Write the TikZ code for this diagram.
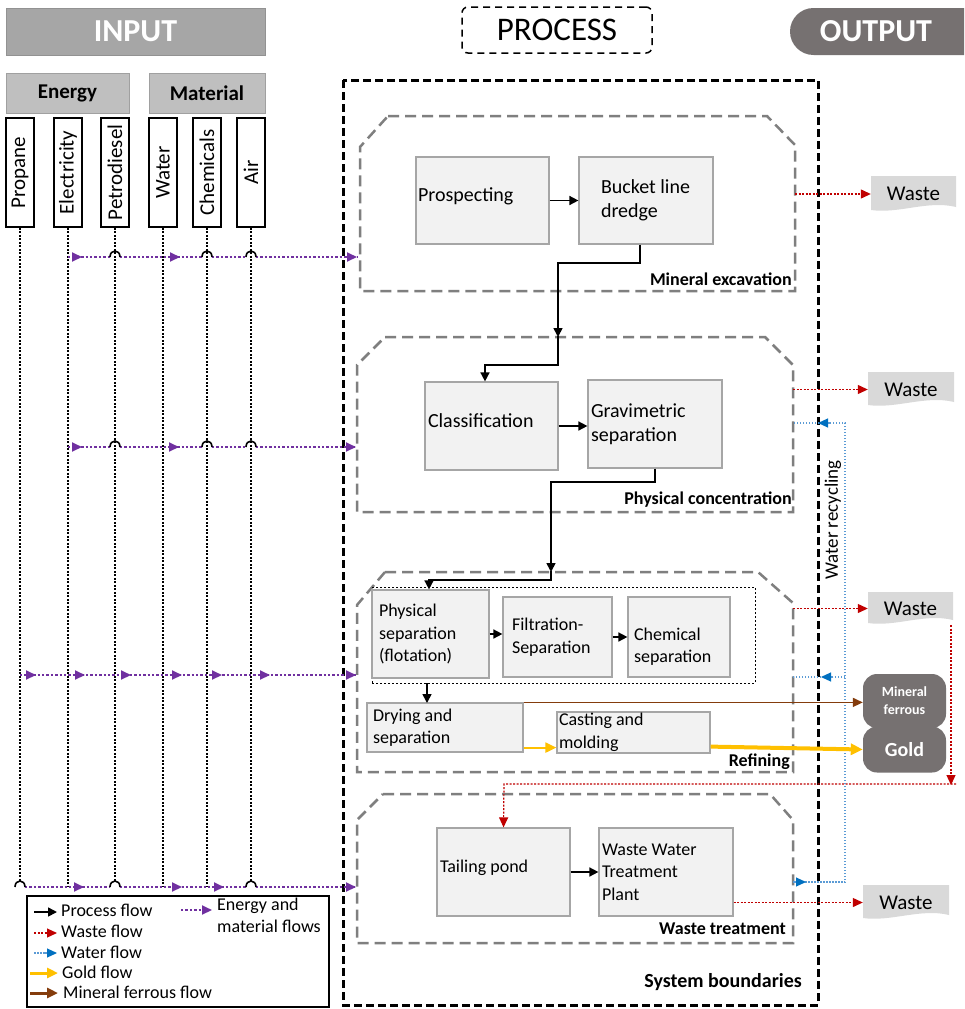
\documentclass[tikz,border=0pt]{standalone}
\usepackage{fontspec}
\setmainfont{Carlito}
\usetikzlibrary{arrows.meta,calc}
\definecolor{hdrgray}{HTML}{A6A6A6}
\definecolor{hdrline}{HTML}{929292}
\definecolor{subgray}{HTML}{BFBFBF}
\definecolor{subline}{HTML}{A0A0A0}
\definecolor{outgray}{HTML}{767171}
\definecolor{boxfill}{HTML}{F2F2F2}
\definecolor{boxline}{HTML}{A6A6A6}
\definecolor{stagegray}{HTML}{7F7F7F}
\definecolor{eflowc}{HTML}{7030A0}
\definecolor{wastec}{HTML}{C00000}
\definecolor{waterl}{HTML}{5B9BD5}
\definecolor{waterc}{HTML}{0070C0}
\definecolor{goldc}{HTML}{FFC000}
\definecolor{brownc}{HTML}{843C0C}
\definecolor{wastefill}{HTML}{D9D9D9}
\newcommand{\fsz}[2]{\fontsize{#1pt}{#2pt}\selectfont}
\begin{document}
\begin{tikzpicture}[x=1pt,y=-1pt,
  hdr/.style={fill=hdrgray, draw=hdrline, line width=1pt, text=white, font=\fsz{32}{38}\bfseries, inner sep=0pt},
  sub/.style={fill=subgray, draw=subline, line width=1pt, font=\fsz{21}{25}\bfseries, inner sep=0pt},
  vbox/.style={draw=black, line width=1.5pt, fill=white, minimum width=28pt, minimum height=109pt, inner sep=0pt, font=\fsz{21}{25}},
  pbox/.style={draw=boxline, fill=boxfill, line width=1.2pt, align=flush left, inner ysep=0pt},
  big/.style={font=\fsz{20}{24.5}},
  small/.style={font=\fsz{18}{22.5}},
  stage/.style={draw=stagegray, line width=2.5pt, dash pattern=on 11pt off 6pt},
  slabel/.style={font=\fsz{18}{22}\bfseries, anchor=east, inner sep=0pt},
  vdot/.style={black, line width=2pt, dash pattern=on 2pt off 1.5pt},
  eflow/.style={eflowc, line width=2.4pt, dash pattern=on 2.4pt off 2pt},
  etip/.style={eflowc, line width=2pt, -{Triangle[length=10pt,width=9pt]}},
  hop/.style={black, line width=1.6pt},
  proc/.style={black, line width=1.6pt, -{Triangle[length=9pt,width=9pt]}},
  wflow/.style={wastec, line width=1.2pt, dash pattern=on 2pt off 1.5pt, -{Triangle[length=10pt,width=9pt]}},
  wtr/.style={waterl, line width=1.1pt, dash pattern=on 1.5pt off 1.5pt},
  wtip/.style={waterl, line width=1.1pt, -{Triangle[length=10pt,width=9pt,color=waterc]}},
  wastebox/.style={inner sep=0pt, font=\fsz{21}{25},
    path picture={\fill[wastefill] (path picture bounding box.north west) -- (path picture bounding box.north east)
      -- ([yshift=5pt]path picture bounding box.south east)
      .. controls ([xshift=-28pt,yshift=12pt]path picture bounding box.south east) and ([xshift=28pt,yshift=-2pt]path picture bounding box.south west)
      .. ([yshift=2pt]path picture bounding box.south west) -- cycle;}},
  blob/.style={fill=outgray, rounded corners=14pt, text=white, inner sep=0pt, align=center},
  ltext/.style={font=\fsz{18}{22}, anchor=west, inner sep=0pt},
]
\fill[white] (0,0) rectangle (964,1009);
\useasboundingbox (0,0) rectangle (964,1009);

% ---------- headers ----------
\node[hdr, minimum width=259pt, minimum height=47pt] (hin) at (135.5,31.5) {INPUT};
\node[sub, minimum width=123pt, minimum height=40pt] (energy) at (67.5,93) {Energy};
\node[sub, minimum width=116pt, minimum height=40pt] (material) at (207,93) {Material};
\node[draw=black, dash pattern=on 7pt off 5pt, rounded corners=6pt, line width=1.5pt,
      minimum width=190pt, minimum height=46pt, font=\fsz{33}{38}] (process) at (557,30) {PROCESS};
\fill[outgray] (964,8) -- (813.5,8) .. controls (800.5,8) and (790,18.5) .. (790,31.5)
   .. controls (790,44.5) and (800.5,55) .. (813.5,55) -- (964,55) -- cycle;
\node[font=\fsz{32}{38}\bfseries, text=white, inner sep=0pt] (output) at (876,31.5) {OUTPUT};

% ---------- input boxes ----------
\node[vbox] (propane) at (20,172.5) {\rotatebox{90}{Propane}};
\node[vbox] (elec) at (68,172.5) {\rotatebox{90}{Electricity}};
\node[vbox] (petro) at (115,172.5) {\rotatebox{90}{Petrodiesel}};
\node[vbox] (water) at (163,172.5) {\rotatebox{90}{Water}};
\node[vbox] (chemi) at (207,172.5) {\rotatebox{90}{Chemicals}};
\node[vbox] (air) at (251,172.5) {\rotatebox{90}{Air}};

% vertical dotted lines
\draw[vdot] (propane.south) -- (20,881);
\draw[vdot] (elec.south) -- (68,887);
\draw[vdot] (petro.south) -- (115,881);
\draw[vdot] (water.south) -- (163,887);
\draw[vdot] (chemi.south) -- (207,887);
\draw[vdot] (air.south) -- (251,881);

% ---------- system boundary ----------
\draw[black, line width=3pt, dash pattern=on 8pt off 4pt] (343,80) rectangle (818,1005);
\node[font=\fsz{20}{24}\bfseries, anchor=east, inner sep=0pt] (sysb) at (802,982) {System boundaries};

% ---------- stages ----------
\draw[stage] (388,116) -- (767,116) -- (795,145) -- (795,291) -- (360,291) -- (360,147) -- cycle;
\draw[stage] (385,337) -- (765,337) -- (793,365) -- (793,512) -- (357,512) -- (357,365) -- cycle;
\draw[stage] (385,572) -- (758,572) -- (793,603) -- (793,772) -- (357,772) -- (357,605) -- cycle;
\draw[stage] (383,794) -- (770,794) -- (793,820) -- (793,943) -- (357,943) -- (357,820) -- cycle;
\node[slabel] (l1) at (792,279) {Mineral excavation};
\node[slabel] (l2) at (792,500) {Physical concentration};
\node[slabel] (l3) at (790,762) {Refining};
\node[slabel] (l4) at (786,929) {Waste treatment};

% ---------- process boxes ----------
\node[pbox, big, minimum width=133pt, minimum height=87pt, text width=129pt, inner xsep=2pt, text depth=12pt] (prosp) at (482.5,200.5) {Prospecting};
\node[pbox, big, minimum width=134pt, minimum height=87pt, text width=90pt, inner xsep=22pt] (bucket) at (646,200.5) {\mbox{Bucket line}\\dredge};
\node[pbox, big, minimum width=133pt, minimum height=88pt, text width=127pt, inner xsep=3pt, text depth=10pt] (class) at (491.5,426) {Classification};
\node[pbox, big, minimum width=134pt, minimum height=88pt, text width=128pt, inner xsep=3pt] (grav) at (655,424) {Gravimetric\\separation};

\node[draw=black, line width=1pt, dash pattern=on 2pt off 2pt, minimum width=383pt, minimum height=96pt, inner sep=0pt] (inner) at (563.5,635) {};
\node[pbox, small, minimum width=117pt, minimum height=88pt, text width=103pt, inner xsep=7pt] (phys) at (430.5,634) {Physical\\separation\\(flotation)};
\node[pbox, small, minimum width=109pt, minimum height=80pt, text width=91pt, inner xsep=9pt] (filt) at (557.5,637) {Filtration-\\Separation};
\node[pbox, small, minimum width=102pt, minimum height=80pt, text width=90pt, inner xsep=6pt, text depth=6pt] (chem) at (679,637) {Chemical\\separation};
\node[pbox, small, minimum width=156pt, minimum height=49pt, text width=144pt, inner xsep=6pt] (dry) at (445,727.5) {Drying and\\separation};
\node[pbox, small, minimum width=153pt, minimum height=41pt, text width=149pt, inner xsep=2pt] (cast) at (633.5,732.5) {Casting and\\molding};

\node[pbox, small, minimum width=133pt, minimum height=88pt, text width=127pt, inner xsep=3pt, text depth=12pt] (tail) at (503.5,872) {Tailing pond};
\node[pbox, small, minimum width=134pt, minimum height=88pt, text width=128pt, inner xsep=3pt] (wwtp) at (666,872) {Waste Water\\Treatment\\Plant};

% ---------- process flows ----------
\draw[proc] (prosp.east) -- (bucket.west);
\draw[proc] ([xshift=-6pt]bucket.south) -- (640,263) -- (558,263) -- (558,337);
\draw[proc] (558,336) -- (558,365) -- (485,365) -- ([xshift=-6.5pt]class.north);
\draw[proc] (class.east) -- (class.east -| grav.west);
\draw[proc] (grav.south) -- (655,482) -- (551,482) -- (551,572);
\draw[proc] (551,571) -- (551,580) -- (429,580) -- ([xshift=-1.5pt]phys.north);
\draw[proc] (phys.east) -- (phys.east -| filt.west);
\draw[proc] (filt.east) -- (chem.west);
\draw[proc] (427,683) -- (427,703);
\draw[proc] (tail.east) -- (wwtp.west);

% ---------- outputs ----------
\node[wastebox, minimum width=85pt, minimum height=36pt] (w1) at (913.5,194) {Waste};
\node[wastebox, minimum width=86pt, minimum height=35pt] (w2) at (911,389.5) {Waste};
\node[wastebox, minimum width=85pt, minimum height=33pt] (w3) at (910.5,608.5) {Waste};
\node[wastebox, minimum width=86pt, minimum height=35pt] (w4) at (906,902.5) {Waste};
\node[blob, minimum width=83pt, minimum height=46pt, font=\fsz{20}{24}\bfseries] (gold) at (904.5,749.5) {Gold};
\node[blob, minimum width=83pt, minimum height=54pt, font=\fsz{14}{18}\bfseries] (mf) at (904.5,701) {Mineral\\ferrous};

% waste flows
\draw[wflow] (795,0 |- w1.west) -- (w1.west);
\draw[wflow] (793,0 |- w2.west) -- (w2.west);
\draw[wflow] (793,0 |- w3.west) -- (w3.west);
\draw[wflow] (wwtp.east |- w4.west) -- (w4.west);
\draw[wflow] (951,625) -- (951,785);
\draw[wflow] (956,784) -- (504,784) -- (tail.north);

% water recycling
\draw[wtr] (793,882) -- (845,882) -- (845,423) -- (793,423);
\draw[wtr] (845,677) -- (793,677);
\draw[wtip] (794,882) -- (806,882);
\draw[wtip] (830,423) -- (818,423);
\draw[wtip] (833,677) -- (821,677);
\node[rotate=90, font=\fsz{19}{23}, inner sep=0pt] (wrec) at (833,520) {Water recycling};

% gold and ferrous flows
\draw[brownc, line width=1.6pt, -{Triangle[length=10pt,width=9pt]}] (dry.north east) -- (dry.north east -| mf.west);
\draw[goldc, line width=2pt, -{Triangle[length=11pt,width=10pt]}] ([yshift=5pt]dry.south east) -- ([yshift=5pt]dry.south east -| cast.west);
\draw[goldc, line width=4pt, -{Triangle[length=12pt,width=11pt]}] ([yshift=7pt]cast.south east) -- (gold.west);

% ---------- energy and material flows ----------
% line A
\draw[eflow] (68,257) -- (110,257) (120,257) -- (202,257) (212,257) -- (246,257) (256,257) -- (358,257);
\foreach \h in {115,207,251} {\draw[hop] (\h-5,257) .. controls (\h-5,249) and (\h+5,249) .. (\h+5,257);}
\draw[etip] (72,257) -- (82,257);
\draw[etip] (170,257) -- (180,257);
\draw[etip] (346,257) -- (357,257);
% line B
\draw[eflow] (68,447) -- (110,447) (120,447) -- (202,447) (212,447) -- (246,447) (256,447) -- (356,447);
\foreach \h in {115,207,251} {\draw[hop] (\h-5,447) .. controls (\h-5,439) and (\h+5,439) .. (\h+5,447);}
\draw[etip] (72,447) -- (82,447);
\draw[etip] (169,447) -- (179,447);
\draw[etip] (345,447) -- (356,447);
% line C
\draw[eflow] (20,675) -- (356,675);
\foreach \t in {36,85,131,182,222,270,356} {\draw[etip] (\t-10,675) -- (\t,675);}
% line D
\draw[eflow] (25,887) -- (110,887) (120,887) -- (246,887) (256,887) -- (356,887);
\foreach \h in {20,115,251} {\draw[hop] (\h-5,887) .. controls (\h-5,879) and (\h+5,879) .. (\h+5,887);}
\foreach \t in {84,182,224,356} {\draw[etip] (\t-10,887) -- (\t,887);}

% ---------- legend ----------
\node[draw=black, line width=1.5pt, minimum width=302pt, minimum height=111pt, inner sep=0pt] (legend) at (178,951.5) {};
\draw[proc] (34,912) -- (57,912);
\node[ltext] (lg1) at (61,910) {Process flow};
\draw[wflow] (34,933) -- (57,933);
\node[ltext] (lg2) at (61,931) {Waste flow};
\draw[wtr] (34,953) -- (46,953);
\draw[wtip] (45,953) -- (57,953);
\node[ltext] (lg3) at (61,952) {Water flow};
\draw[goldc, line width=3pt, -{Triangle[length=11pt,width=10pt]}] (30,973) -- (58,973);
\node[ltext] (lg4) at (62,972) {Gold flow};
\draw[brownc, line width=3pt, -{Triangle[length=11pt,width=10pt]}] (30,993) -- (58,993);
\node[ltext] (lg5) at (63,992) {Mineral ferrous flow};
\draw[eflow] (181,910) -- (203,910);
\draw[etip] (202,910) -- (212,910);
\node[ltext, align=left, anchor=north west] (lg6) at (217,898) {Energy and\\material flows};
\end{tikzpicture}
\end{document}
